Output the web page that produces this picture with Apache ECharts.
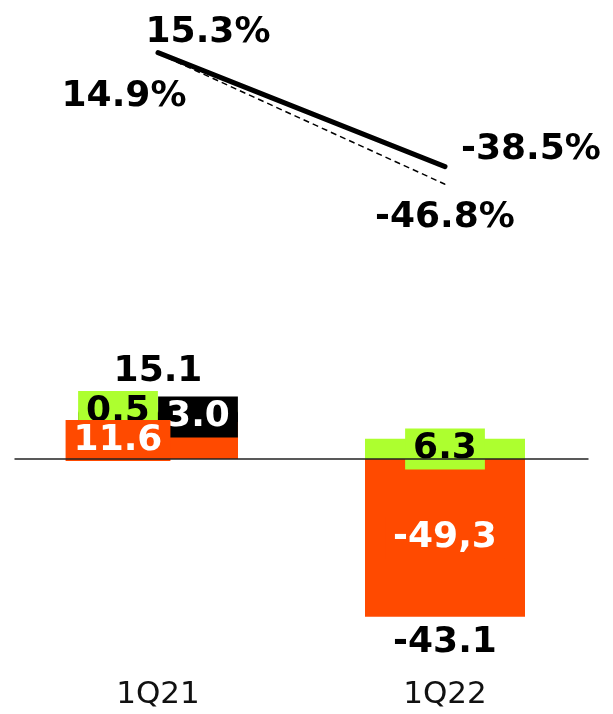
<!DOCTYPE html>
<html>
<head>
<meta charset="utf-8">
<script src="https://cdn.jsdelivr.net/npm/echarts@6/dist/echarts.min.js"></script>
<style>
  html, body { margin: 0; padding: 0; background: #fff; }
  #chart { width: 613px; height: 714px; }
</style>
</head>
<body>
<div id="chart"></div>
<script>
// Quarterly result bridge: stacked components with totals, plus two margin lines
const categories = ['1Q21', '1Q22'];
const orangeValues = [11.6, -49.3];
const blackValues = [3.0, null];
const greenValues = [0.5, 6.3];
const totalValues = [15.1, -43.1];
const solidLineValues = [15.3, -38.5];
const dashedLineValues = [14.9, -46.8];
// decimal separator used by each orange label
const orangeDecimalSep = ['.', ','];

const ORANGE = '#FF4A00';
const GREEN = '#ADFF2F';
const BLACK = '#000000';
const FONT = 'DejaVu Sans';
const BOLD_SIZE = 36;

const fmt1 = v => Number(v).toFixed(1);

const boxLabel = (bg, fg) => ({
  show: true,
  position: 'inside',
  color: fg,
  fontFamily: FONT,
  fontWeight: 'bold',
  fontSize: BOLD_SIZE,
  lineHeight: 35,
  backgroundColor: bg,
  padding: [3, 8, 3, 8],
  formatter: p => fmt1(p.value)
});

// labels of the first quarter sit either side of the bar centre
const sideOffset = (i, dx) => (i === 0 ? [dx, 0] : [0, 0]);

const orangeData = orangeValues.map((v, i) => ({
  value: v,
  label: {
    offset: sideOffset(i, -40),
    formatter: () => fmt1(v).replace('.', orangeDecimalSep[i])
  }
}));
const blackData = blackValues.map((v, i) => ({
  value: v,
  label: { offset: sideOffset(i, 40) }
}));
const greenData = greenValues.map((v, i) => ({
  value: v,
  label: { offset: sideOffset(i, -40) }
}));
const totalData = totalValues.map(v => ({
  value: v,
  label: { offset: v >= 0 ? [0, -39] : [0, 46] }
}));

const solidOffsets = [[50, -20], [86, -17]];
const dashedOffsets = [[-34, 43], [0, 33]];

const pctLabel = {
  show: true,
  position: 'inside',
  color: BLACK,
  fontFamily: FONT,
  fontWeight: 'bold',
  fontSize: BOLD_SIZE,
  formatter: p => fmt1(p.value) + '%'
};

// Series are listed top segment first; stackOrder 'seriesDesc' puts the
// last one (orange) at the base, and its labels are painted last.
const barBase = {
  type: 'bar',
  stack: 'total',
  stackOrder: 'seriesDesc',
  barWidth: 160,
  z: 2
};

const chart = echarts.init(document.getElementById('chart'), null, { renderer: 'canvas' });

chart.setOption({
  animation: false,
  backgroundColor: '#ffffff',
  grid: { left: 14.5, right: 24.5, top: 0, bottom: 42 },
  xAxis: {
    type: 'category',
    data: categories,
    boundaryGap: true,
    axisLine: { show: false, onZero: false },
    axisTick: { show: false },
    axisLabel: {
      margin: 7,
      color: '#111',
      fontFamily: FONT,
      fontSize: 31
    }
  },
  yAxis: [
    {
      type: 'value',
      min: -66.5625,
      max: 143.4375,
      show: false,
      splitLine: { show: false }
    },
    {
      type: 'value',
      min: -276.887,
      max: 40.094,
      show: false,
      splitLine: { show: false }
    }
  ],
  series: [
    Object.assign({}, barBase, {
      name: 'green',
      itemStyle: { color: GREEN },
      label: boxLabel(GREEN, BLACK),
      data: greenData
    }),
    Object.assign({}, barBase, {
      name: 'black',
      itemStyle: { color: BLACK },
      label: boxLabel(BLACK, '#ffffff'),
      data: blackData
    }),
    Object.assign({}, barBase, {
      name: 'orange',
      itemStyle: { color: ORANGE },
      label: boxLabel(ORANGE, '#ffffff'),
      data: orangeData,
      markLine: {
        silent: true,
        symbol: 'none',
        label: { show: false },
        lineStyle: { color: '#222', width: 1.5, type: 'solid' },
        data: [{ yAxis: 0 }]
      }
    }),
    {
      name: 'total',
      type: 'scatter',
      symbol: 'circle',
      symbolSize: 1,
      z: 3,
      itemStyle: { color: 'rgba(0,0,0,0)', opacity: 1 },
      label: {
        show: true,
        position: 'inside',
        color: BLACK,
        fontFamily: FONT,
        fontWeight: 'bold',
        fontSize: BOLD_SIZE,
        formatter: p => fmt1(p.value)
      },
      data: totalData
    },
    {
      name: 'dashed',
      type: 'line',
      yAxisIndex: 1,
      symbol: 'circle',
      symbolSize: 1,
      z: 3,
      itemStyle: { color: BLACK },
      lineStyle: { color: BLACK, width: 1.5, type: [6, 4] },
      label: pctLabel,
      data: dashedLineValues.map((v, i) => ({ value: v, label: { offset: dashedOffsets[i] } }))
    },
    {
      name: 'solid',
      type: 'line',
      yAxisIndex: 1,
      symbol: 'circle',
      symbolSize: 1,
      z: 3,
      itemStyle: { color: BLACK },
      lineStyle: { color: BLACK, width: 5, cap: 'round' },
      label: pctLabel,
      data: solidLineValues.map((v, i) => ({ value: v, label: { offset: solidOffsets[i] } }))
    }
  ]
});
</script>
</body>
</html>
